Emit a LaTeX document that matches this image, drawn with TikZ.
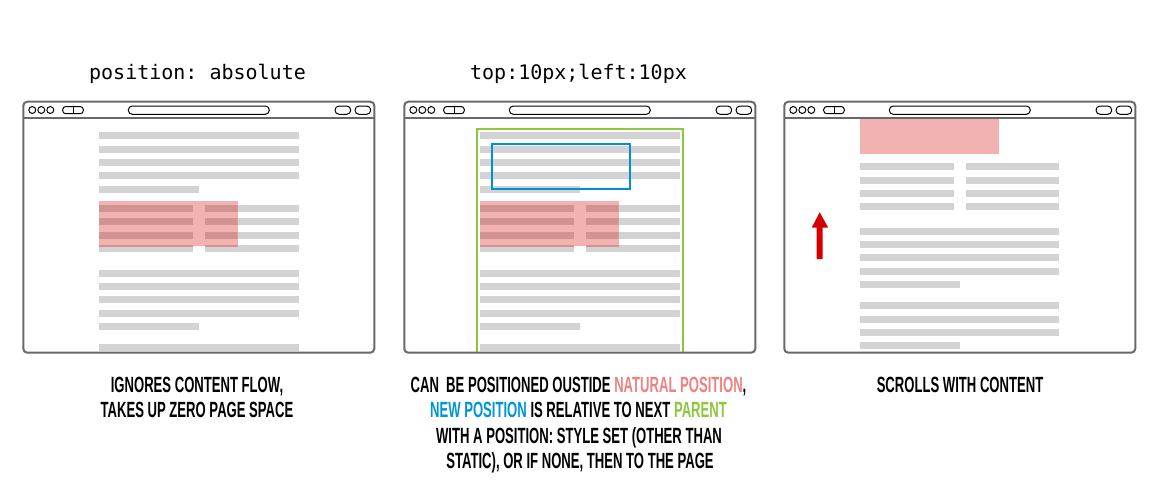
\documentclass[tikz,border=0pt]{standalone}
\usepackage{fontspec}
\setmainfont{Liberation Sans}
\newfontfamily\capfont[FakeStretch=0.595]{Liberation Sans}
\newfontfamily\codefont{DejaVu Sans Mono}
\definecolor{linegray}{RGB}{211,211,211}
\definecolor{framegray}{RGB}{105,105,105}
\definecolor{pinkfill}{RGB}{242,178,178}
\definecolor{pinkdark}{RGB}{209,146,146}
\definecolor{pgreen}{RGB}{141,198,63}
\definecolor{pblue}{RGB}{0,146,208}
\definecolor{parrow}{RGB}{212,0,0}
\definecolor{cpink}{RGB}{238,130,130}
\definecolor{cblue}{RGB}{0,150,214}
\definecolor{cgreen}{RGB}{141,198,63}
\frenchspacing
\tikzset{
  frameline/.style={draw=framegray, line width=1.5pt},
  tool/.style={draw=black, line width=0.75pt},
  codetxt/.style={font=\codefont\frenchspacing\fontsize{15}{18}\selectfont, inner sep=0pt, anchor=base},
  captxt/.style={font=\capfont\bfseries\frenchspacing\fontsize{16.5}{19}\selectfont, inner sep=0pt, anchor=base},
}
\newcommand\browserframe{%
  \draw[frameline, rounded corners=3pt] (23.3,101.7) rectangle (374.3,352.7);
  \draw[frameline] (23.3,117.7) -- (374.3,117.7);
  \draw[tool] (32.3,110) circle (2.6pt);
  \draw[tool] (41.3,110) circle (2.6pt);
  \draw[tool] (50.3,110) circle (2.6pt);
  \draw[tool, rounded corners=2.3pt] (62.7,106.5) rectangle (83.3,113.7);
  \draw[tool] (73.3,106.5) -- (73.3,113.7);
  \draw[tool, rounded corners=3pt] (128.3,106) rectangle (269.3,114.3);
  \draw[tool, rounded corners=3pt] (335,106) rectangle (350.7,114.3);
  \draw[tool, rounded corners=3pt] (355,106) rectangle (370.7,114.3);
}
\newcommand\columnlines[1]{%
  \foreach \k in {0,...,3} {
    \fill[#1] (99,{205+13.4*\k}) rectangle (193,{212+13.4*\k});
    \fill[#1] (205,{205+13.4*\k}) rectangle (298.7,{212+13.4*\k});
  }%
}
\newcommand\pagecontent{%
  \foreach \k in {0,...,3} {
    \fill[linegray] (99,{132.3+13.33*\k}) rectangle (298.7,{139.3+13.33*\k});
  }
  \fill[linegray] (99,185.6) rectangle (199,192.6);
  \columnlines{linegray}
  \foreach \k in {0,...,3} {
    \fill[linegray] (99,{269.7+13.33*\k}) rectangle (298.7,{276.7+13.33*\k});
  }
  \fill[linegray] (99,323) rectangle (199,330);
  \fill[linegray] (99,344.3) rectangle (298.7,351);
  \fill[pinkfill] (99,201) rectangle (237.7,246);
  \begin{scope}
    \clip (99,201) rectangle (237.7,246);
    \columnlines{pinkdark}
  \end{scope}
}
\begin{document}
\begin{tikzpicture}[x=0.75pt, y=-0.75pt]
\useasboundingbox[fill=white] (0,0) rectangle (1159,493);

% ---- browser 1
\pagecontent
\browserframe

% ---- browser 2
\begin{scope}[shift={(381,0)}]
  \pagecontent
  \draw[draw=pgreen, line width=1.6pt] (96.3,352) -- (96.3,128.7) -- (302,128.7) -- (302,352);
  \draw[draw=pblue, line width=1.5pt] (110.7,144) rectangle (249,188.7);
  \browserframe
\end{scope}

% ---- browser 3
\begin{scope}[shift={(761,0)}]
  \fill[pinkfill] (99.3,118.3) rectangle (237.7,154.3);
  \foreach \k in {0,...,3} {
    \fill[linegray] (99.3,{163.3+13.33*\k}) rectangle (193,{170.3+13.33*\k});
    \fill[linegray] (205,{163.3+13.33*\k}) rectangle (298.3,{170.3+13.33*\k});
  }
  \foreach \k in {0,...,3} {
    \fill[linegray] (99.3,{227.7+13.33*\k}) rectangle (298.3,{234.7+13.33*\k});
  }
  \fill[linegray] (99.3,281) rectangle (199.3,288);
  \foreach \k in {0,...,2} {
    \fill[linegray] (99.3,{302.3+13.33*\k}) rectangle (298.3,{309.3+13.33*\k});
  }
  \fill[linegray] (99.3,342.3) rectangle (199.3,349.3);
  \fill[parrow] (55.7,259) -- (55.7,227.7) -- (50.7,227.7) -- (58.7,212.3) -- (67.2,227.7) -- (61.7,227.7) -- (61.7,259) -- cycle;
  \browserframe
\end{scope}

% ---- titles
\node[codetxt] (t1) at (197.5,79) {position: absolute};
\node[codetxt] (t2) at (578.5,79) {top:10px;left:10px};

% ---- captions
\node[captxt] (c1a) at (197,392) {IGNORES CONTENT FLOW,};
\node[captxt] (c1b) at (197,417) {TAKES UP ZERO PAGE SPACE};
\node[captxt] (c2a) at (578.5,392) {CAN\ \ BE POSITIONED OUSTIDE \textcolor{cpink}{NATURAL POSITION},};
\node[captxt] (c2b) at (578.5,417) {\textcolor{cblue}{NEW POSITION} IS RELATIVE TO NEXT \textcolor{cgreen}{PARENT}};
\node[captxt] (c2c) at (579,443) {WITH A POSITION: STYLE SET (OTHER THAN};
\node[captxt] (c2d) at (580,468) {STATIC), OR IF NONE, THEN TO THE PAGE};
\node[captxt] (c3) at (960,392) {SCROLLS WITH CONTENT};
\end{tikzpicture}
\end{document}
